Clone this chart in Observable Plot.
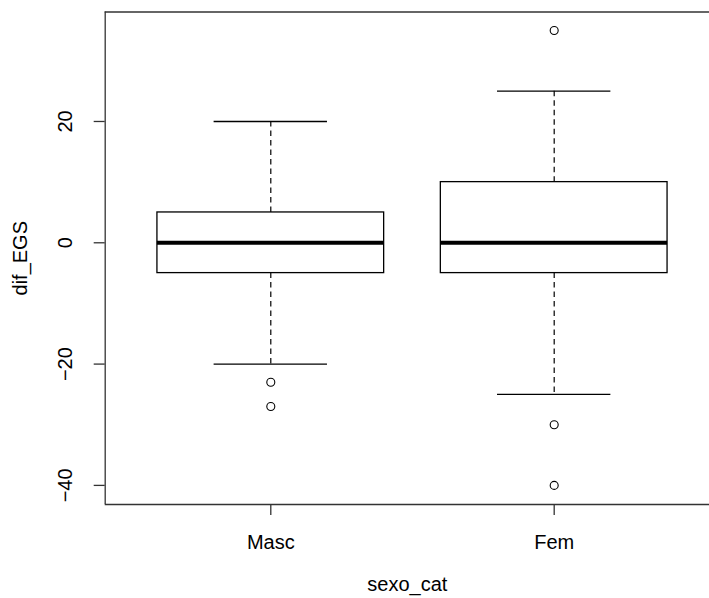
<!DOCTYPE html>
<html>
<head>
<meta charset="utf-8">
<script src="https://cdn.jsdelivr.net/npm/d3@7"></script>
<script src="https://cdn.jsdelivr.net/npm/@observablehq/plot@0.6"></script>
<style>
  html, body { margin: 0; padding: 0; background: #fff; }
  #chart svg { display: block; }
</style>
</head>
<body>
<div id="chart"></div>
<script>
// Data
const categories = ["Masc", "Fem"];
const positions = [1, 2];
const whiskerLow = [-20, -25];
const q1 = [-5, -5];
const median = [0, 0];
const q3 = [5, 10];
const whiskerHigh = [20, 25];
const outlierGroup = ["Masc", "Masc", "Fem", "Fem", "Fem"];
const outlierValue = [-23, -27, 35, -30, -40];
const yTicks = [-40, -20, 0, 20];

const boxes = categories.map((c, i) => ({
  cat: c, pos: positions[i], lo: whiskerLow[i], q1: q1[i], med: median[i], q3: q3[i], hi: whiskerHigh[i]
}));
const outliers = outlierGroup.map((g, i) => ({ pos: positions[categories.indexOf(g)], v: outlierValue[i] }));

const xDomain = [0.4157, 2.548];
const yDomain = [-43.15, 38.05];
const font = "Liberation Sans, Arial, sans-serif";
const fs = 20;

const chart = Plot.plot({
  width: 709,
  height: 598,
  marginLeft: 104.7,
  marginRight: 0,
  marginTop: 11.5,
  marginBottom: 94,
  style: { fontFamily: font, fontSize: fs + "px", color: "#000", background: "#fff" },
  x: { type: "linear", domain: xDomain },
  y: { type: "linear", domain: yDomain },
  marks: [
    // whiskers (dashed)
    Plot.ruleX(boxes, { x: "pos", y1: "q3", y2: "hi", stroke: "#000", strokeWidth: 1.2, strokeDasharray: "5.5,4" }),
    Plot.ruleX(boxes, { x: "pos", y1: "q1", y2: "lo", stroke: "#000", strokeWidth: 1.2, strokeDasharray: "5.5,4" }),
    // whisker caps
    Plot.ruleY(boxes, { y: "hi", x1: d => d.pos - 0.2, x2: d => d.pos + 0.2, stroke: "#000", strokeWidth: 1.3 }),
    Plot.ruleY(boxes, { y: "lo", x1: d => d.pos - 0.2, x2: d => d.pos + 0.2, stroke: "#000", strokeWidth: 1.3 }),
    // boxes
    Plot.rect(boxes, { x1: d => d.pos - 0.4, x2: d => d.pos + 0.4, y1: "q1", y2: "q3", fill: "#fff", stroke: "#000", strokeWidth: 1.3 }),
    // medians
    Plot.ruleY(boxes, { y: "med", x1: d => d.pos - 0.4, x2: d => d.pos + 0.4, stroke: "#000", strokeWidth: 4 }),
    // outliers
    Plot.dot(outliers, { x: "pos", y: "v", r: 4, stroke: "#000", fill: "none", strokeWidth: 1.1 }),
    // frame (right edge lies outside the visible area)
    Plot.ruleX([xDomain[0]], { y1: yDomain[0], y2: yDomain[1], stroke: "#333", strokeWidth: 1.3 }),
    Plot.ruleY([yDomain[0], yDomain[1]], { stroke: "#333", strokeWidth: 1.3 }),
    // axes
    Plot.axisX({
      ticks: positions, tickFormat: (d) => categories[positions.indexOf(d)],
      tickSize: 11, tickPadding: 19, fontSize: fs, label: null, stroke: "#333", strokeWidth: 1.3
    }),
    Plot.axisY({
      ticks: yTicks, tickSize: 11, tickPadding: 22, tickRotate: -90, fontSize: fs,
      label: null, stroke: "#333", strokeWidth: 1.3, textAnchor: "middle", lineAnchor: "bottom"
    }),
    Plot.text(["sexo_cat"], { frameAnchor: "bottom", textAnchor: "middle", dy: 86, fontSize: fs, fill: "#000" }),
    Plot.text(["dif_EGS"], { frameAnchor: "left", textAnchor: "middle", dx: -85, rotate: -90, fontSize: fs, fill: "#000" })
  ]
});
document.getElementById("chart").appendChild(chart);
</script>
</body>
</html>
